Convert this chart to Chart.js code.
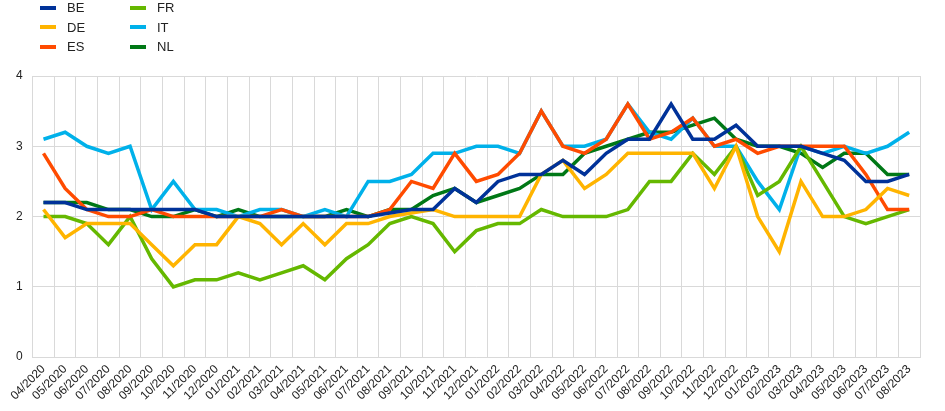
<!DOCTYPE html>
<html>
<head>
<meta charset="utf-8">
<script src="https://cdn.jsdelivr.net/npm/chart.js@4"></script>
<style>
  html, body { margin: 0; padding: 0; background: #fff; }
  #wrap { position: relative; width: 945px; height: 411px; }
  #legend { position: absolute; left: 40px; top: 0; font: 13px "Liberation Sans", Arial, sans-serif; color: #222; }
  .item { position: absolute; white-space: nowrap; line-height: 15px; }
  .item span { display: inline-block; width: 16px; height: 4px; vertical-align: middle; margin-right: 11px; position: relative; top: -1px; }
</style>
</head>
<body>
<div id="wrap">
  <canvas id="chart" width="945" height="411"></canvas>
  <div id="legend"></div>
</div>
<script>
'use strict';

let months = ['04/2020', '05/2020', '06/2020', '07/2020', '08/2020', '09/2020', '10/2020', '11/2020', '12/2020',
  '01/2021', '02/2021', '03/2021', '04/2021', '05/2021', '06/2021', '07/2021', '08/2021', '09/2021', '10/2021', '11/2021', '12/2021',
  '01/2022', '02/2022', '03/2022', '04/2022', '05/2022', '06/2022', '07/2022', '08/2022', '09/2022', '10/2022', '11/2022', '12/2022',
  '01/2023', '02/2023', '03/2023', '04/2023', '05/2023', '06/2023', '07/2023', '08/2023'];

let valuesBE = [2.2, 2.2, 2.1, 2.1, 2.1, 2.1, 2.1, 2.1, 2.0, 2.0, 2.0, 2.0, 2.0, 2.0, 2.0, 2.0, 2.05, 2.1, 2.1, 2.4, 2.2,
  2.5, 2.6, 2.6, 2.8, 2.6, 2.9, 3.1, 3.1, 3.6, 3.1, 3.1, 3.3, 3.0, 3.0, 3.0, 2.9, 2.8, 2.5, 2.5, 2.6];
let valuesDE = [2.1, 1.7, 1.9, 1.9, 1.9, 1.6, 1.3, 1.6, 1.6, 2.0, 1.9, 1.6, 1.9, 1.6, 1.9, 1.9, 2.0, 2.05, 2.1, 2.0, 2.0,
  2.0, 2.0, 2.6, 2.8, 2.4, 2.6, 2.9, 2.9, 2.9, 2.9, 2.4, 3.0, 2.0, 1.5, 2.5, 2.0, 2.0, 2.1, 2.4, 2.3];
let valuesES = [2.9, 2.4, 2.1, 2.0, 2.0, 2.1, 2.0, 2.0, 2.0, 2.0, 2.0, 2.1, 2.0, 2.0, 2.0, 2.0, 2.1, 2.5, 2.4, 2.9, 2.5,
  2.6, 2.9, 3.5, 3.0, 2.9, 3.1, 3.6, 3.1, 3.2, 3.4, 3.0, 3.1, 2.9, 3.0, 3.0, 3.0, 3.0, 2.6, 2.1, 2.1];
let valuesFR = [2.0, 2.0, 1.9, 1.6, 2.0, 1.4, 1.0, 1.1, 1.1, 1.2, 1.1, 1.2, 1.3, 1.1, 1.4, 1.6, 1.9, 2.0, 1.9, 1.5, 1.8,
  1.9, 1.9, 2.1, 2.0, 2.0, 2.0, 2.1, 2.5, 2.5, 2.9, 2.6, 3.0, 2.3, 2.5, 3.0, 2.5, 2.0, 1.9, 2.0, 2.1];
let valuesIT = [3.1, 3.2, 3.0, 2.9, 3.0, 2.1, 2.5, 2.1, 2.1, 2.0, 2.1, 2.1, 2.0, 2.1, 2.0, 2.5, 2.5, 2.6, 2.9, 2.9, 3.0,
  3.0, 2.9, 3.5, 3.0, 3.0, 3.1, 3.6, 3.2, 3.1, 3.4, 3.0, 3.0, 2.5, 2.1, 3.0, 2.9, 3.0, 2.9, 3.0, 3.2];
let valuesNL = [2.2, 2.2, 2.2, 2.1, 2.1, 2.0, 2.0, 2.1, 2.0, 2.1, 2.0, 2.0, 2.0, 2.0, 2.1, 2.0, 2.1, 2.1, 2.3, 2.4, 2.2,
  2.3, 2.4, 2.6, 2.6, 2.9, 3.0, 3.1, 3.2, 3.2, 3.3, 3.4, 3.1, 3.0, 3.0, 2.9, 2.7, 2.9, 2.9, 2.6, 2.6];

let countries = ['BE', 'DE', 'ES', 'FR', 'IT', 'NL'];
let colours = ['#003299', '#ffb400', '#ff4b00', '#65b800', '#00b1ea', '#007816'];
let seriesValues = [valuesBE, valuesDE, valuesES, valuesFR, valuesIT, valuesNL];

let yTicks = [0, 1, 2, 3, 4];

let font = '"Liberation Sans", Arial, sans-serif';
let gridColour = '#d9d9d9';

function buildLegend() {
  let legend = document.getElementById('legend');
  for (let i = 0; i < countries.length; i++) {
    let item = document.createElement('div');
    item.className = 'item';
    // three per column, filled top to bottom
    item.style.left = (Math.floor(i / 3) * 90) + 'px';
    item.style.top = (i % 3) * 19.5 + 'px';
    let swatch = document.createElement('span');
    swatch.style.background = colours[i];
    item.appendChild(swatch);
    item.appendChild(document.createTextNode(countries[i]));
    legend.appendChild(item);
  }
}

function renderChart() {
  let datasets = [];
  for (let i = 0; i < countries.length; i++) {
    datasets.push({
      label: countries[i],
      data: seriesValues[i],
      borderColor: colours[i],
      backgroundColor: colours[i],
      borderWidth: 3.5,
      pointRadius: 0,
      tension: 0
    });
  }

  new Chart(document.getElementById('chart'), {
    type: 'line',
    data: { labels: months, datasets: datasets },
    options: {
      responsive: false,
      animation: false,
      layout: { padding: { left: 6, right: 25, top: 76, bottom: 3 } },
      plugins: {
        legend: { display: false },
        tooltip: { enabled: false }
      },
      scales: {
        x: {
          offset: true,
          grid: { offset: true, color: gridColour, lineWidth: 1, drawTicks: false },
          border: { color: gridColour },
          ticks: {
            autoSkip: false,
            minRotation: 45,
            maxRotation: 45,
            padding: 5,
            color: '#222',
            font: { family: font, size: 12 }
          }
        },
        y: {
          min: 0,
          max: 4,
          afterBuildTicks: function (axis) {
            axis.ticks = yTicks.map(function (v) { return { value: v }; });
          },
          grid: { color: gridColour, lineWidth: 1, drawTicks: false },
          border: { color: gridColour },
          ticks: {
            padding: 10,
            color: '#222',
            font: { family: font, size: 12 }
          }
        }
      }
    }
  });
}

buildLegend();
renderChart();
</script>
</body>
</html>
